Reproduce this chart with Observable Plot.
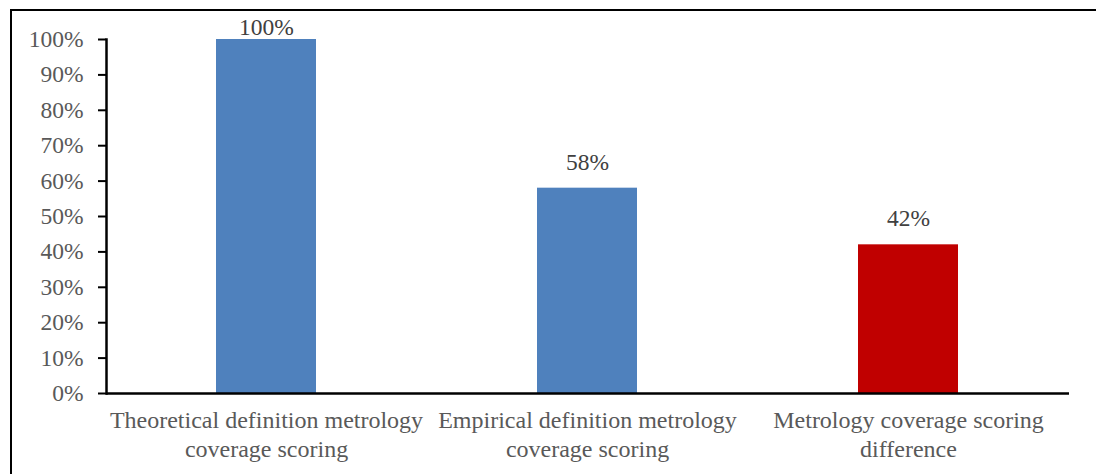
<!DOCTYPE html>
<html>
<head>
<meta charset="utf-8">
<script src="https://cdn.jsdelivr.net/npm/d3@7"></script>
<script src="https://cdn.jsdelivr.net/npm/@observablehq/plot@0.6"></script>
<style>
  html, body { margin: 0; padding: 0; background: #fff; overflow: hidden; }
  #frame { position: absolute; left: 10px; top: 9px; width: 3000px; height: 3000px; border: 2.5px solid #000; pointer-events: none; }
  #chart { position: absolute; left: 0; top: 0; }
</style>
</head>
<body>
<div id="chart"></div>
<div id="frame"></div>
<script>
const categories = [
  "Theoretical definition metrology\ncoverage scoring",
  "Empirical definition metrology\ncoverage scoring",
  "Metrology coverage scoring\ndifference"
];
const values = [1.00, 0.58, 0.42];
const barColors = ["#4F81BD", "#4F81BD", "#C00000"];
const yTicks = [0, 0.1, 0.2, 0.3, 0.4, 0.5, 0.6, 0.7, 0.8, 0.9, 1.0];

const data = categories.map((c, i) => ({cat: c, value: values[i], color: barColors[i]}));
const pct = v => Math.round(v * 100) + "%";

const chart = Plot.plot({
  width: 1096,
  height: 474,
  marginLeft: 106,
  marginRight: 27,
  marginTop: 39,
  marginBottom: 81,
  style: {fontFamily: "'Liberation Serif', 'Times New Roman', serif", fontSize: "23px", background: "transparent"},
  x: {domain: categories, paddingInner: 0.688, paddingOuter: 0.344, label: null},
  y: {domain: [0, 1], label: null},
  marks: [
    Plot.barY(data, {x: "cat", y: "value", fill: d => d.color}),
    Plot.axisY({ticks: yTicks, tickFormat: pct, tickSize: 8, tickPadding: 15, stroke: "#000", strokeWidth: 2, fill: "#595959", fontSize: 23.5, label: null}),
    Plot.frame({anchor: "left", stroke: "#000", strokeWidth: 2.5}),
    Plot.ruleY([0], {stroke: "#000", strokeWidth: 2.5}),
    Plot.axisX({tickSize: 0, tickPadding: 14, lineHeight: 1.2, fill: "#595959", fontSize: 24, label: null, textOverflow: null}),
    Plot.text(data.filter(d => d.value < 0.95), {x: "cat", y: "value", text: d => pct(d.value), dy: -26, fill: "#404040", fontSize: 23.5}),
    Plot.text(data.filter(d => d.value >= 0.95), {x: "cat", y: "value", text: d => pct(d.value), dy: -12, fill: "#404040", fontSize: 23.5})
  ]
});
document.getElementById("chart").appendChild(chart);
</script>
</body>
</html>
